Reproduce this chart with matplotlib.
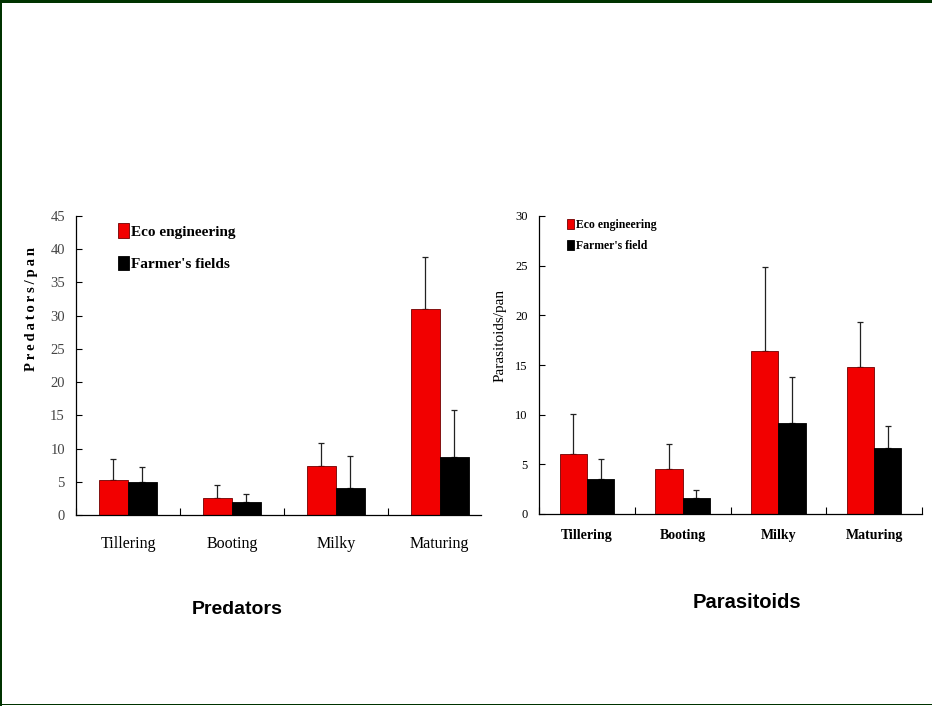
import matplotlib
matplotlib.use("Agg")
import matplotlib.pyplot as plt
from matplotlib.patches import Rectangle
import numpy as np

# ---- data ----
stages = ["Tillering", "Booting", "Milky", "Maturing"]

pred_eco = [5.3, 2.6, 7.4, 31.0]
pred_eco_err = [3.1, 1.9, 3.4, 7.8]
pred_farm = [5.0, 1.9, 4.0, 8.7]
pred_farm_err = [2.2, 1.2, 4.9, 7.1]

para_eco = [6.0, 4.5, 16.4, 14.8]
para_eco_err = [4.1, 2.5, 8.5, 4.5]
para_farm = [3.5, 1.6, 9.2, 6.6]
para_farm_err = [2.0, 0.8, 4.6, 2.3]

pred_yticks = [0, 5, 10, 15, 20, 25, 30, 35, 40, 45]
para_yticks = [0, 5, 10, 15, 20, 25, 30]

RED = "#f20000"
W, H = 932, 706
fig = plt.figure(figsize=(W / 100, H / 100), dpi=100)
fig.patch.set_facecolor("white")

SERIF = ["Liberation Serif", "DejaVu Serif"]
SANS = ["Liberation Sans", "DejaVu Sans"]

def ax_px(x0, x1, ytop, ybot):
    return fig.add_axes([x0 / W, (H - ybot) / H, (x1 - x0) / W, (ybot - ytop) / H])

def draw(ax, eco, eco_err, farm, farm_err, w, xmax, ymax, yticks,
         ytick_color, ytick_fs, xlab_fs, xlab_weight, xpad, ypad,
         leg_labels, leg_fs, leg_anchor, leg_spacing, leg_hl, leg_hh):
    x = np.arange(len(stages))
    b1 = ax.bar(x - w / 2, eco, w, color=RED, edgecolor="#700000", linewidth=0.6,
                label=leg_labels[0], zorder=2)
    b2 = ax.bar(x + w / 2, farm, w, color="black", edgecolor="black", linewidth=0.6,
                label=leg_labels[1], zorder=2)
    ax.errorbar(x - w / 2, eco, yerr=[np.zeros(len(eco)), eco_err], fmt="none",
                ecolor="#222222", elinewidth=0.9, capsize=2.3, capthick=0.9, zorder=1)
    ax.errorbar(x + w / 2, farm, yerr=[np.zeros(len(farm)), farm_err], fmt="none",
                ecolor="#222222", elinewidth=0.9, capsize=2.3, capthick=0.9, zorder=1)
    ax.set_xlim(-0.5, xmax)
    ax.set_ylim(0, ymax)
    ax.set_yticks(yticks)
    ax.tick_params(axis="y", direction="in", length=4, width=0.8, pad=ypad,
                   labelsize=ytick_fs, labelcolor=ytick_color)
    for t in ax.get_yticklabels():
        t.set_fontfamily(SERIF)
    ax.set_xticks(x)
    ax.set_xticklabels(stages, fontfamily=SERIF, fontsize=xlab_fs, fontweight=xlab_weight)
    ax.tick_params(axis="x", which="major", length=0, pad=xpad)
    bounds = [b for b in np.arange(-0.5, 4.0, 1.0) if b <= xmax + 1e-9]
    ax.set_xticks(bounds, minor=True)
    ax.tick_params(axis="x", which="minor", direction="in", length=5, width=0.8)
    for s in ["top", "right"]:
        ax.spines[s].set_visible(False)
    for s in ["left", "bottom"]:
        ax.spines[s].set_linewidth(0.9)
    ax.legend(handles=[b1, b2], loc="upper left", bbox_to_anchor=leg_anchor,
              frameon=False, handlelength=leg_hl, handleheight=leg_hh,
              handletextpad=0.15, labelspacing=leg_spacing, borderaxespad=0,
              borderpad=0, prop={"family": SERIF, "weight": "bold", "size": leg_fs})

# left: predators
axL = ax_px(76, 481, 216, 515)
draw(axL, pred_eco, pred_eco_err, pred_farm, pred_farm_err, 0.28,
     -0.5 + 405 / 103.9, 45, pred_yticks, "#444444", 10.5, 11.5, "normal", 15, 8,
     ["Eco engineering", "Farmer's fields"], 11, (0.104, 0.975), 1.1, 0.7, 1.05)
axL.set_ylabel("P\u2009r\u2009e\u2009d\u2009a\u2009t\u2009o\u2009r\u2009s\u2009/\u2009p\u2009a\u2009n",
               fontfamily=SERIF, fontweight="bold", fontsize=10.5)
axL.yaxis.set_label_coords(-0.095, 0.69)

# right: parasitoids
axR = ax_px(539, 922, 216, 514)
draw(axR, para_eco, para_eco_err, para_farm, para_farm_err, 0.285,
     3.5, 30, para_yticks, "black", 9, 10, "bold", 11, 8,
     ["Eco engineering", "Farmer's field"], 8.5, (0.073, 0.99), 0.75, 0.6, 0.9)
axR.set_ylabel("Parasitoids/pan", fontfamily=SERIF, fontsize=11)
axR.yaxis.set_label_coords(-0.085, 0.6)

# subtitles
fig.text(237 / W, 1 - 609 / H, "Predators", fontfamily=SANS, fontweight="bold",
         fontsize=14, ha="center", va="center")
fig.text(747 / W, 1 - 603 / H, "Parasitoids", fontfamily=SANS, fontweight="bold",
         fontsize=14.5, ha="center", va="center")

# slide frame
GREEN = "#003300"
fig.add_artist(Rectangle((0, 1 - 3 / H), 1, 3 / H, transform=fig.transFigure,
                         facecolor=GREEN, edgecolor="none"))
fig.add_artist(Rectangle((0, 0), 1.5 / W, 1, transform=fig.transFigure,
                         facecolor=GREEN, edgecolor="none"))
fig.add_artist(Rectangle((0, 1 / H), 1, 1.5 / H, transform=fig.transFigure,
                         facecolor=GREEN, edgecolor="none"))

fig.savefig("out.png", dpi=100)
